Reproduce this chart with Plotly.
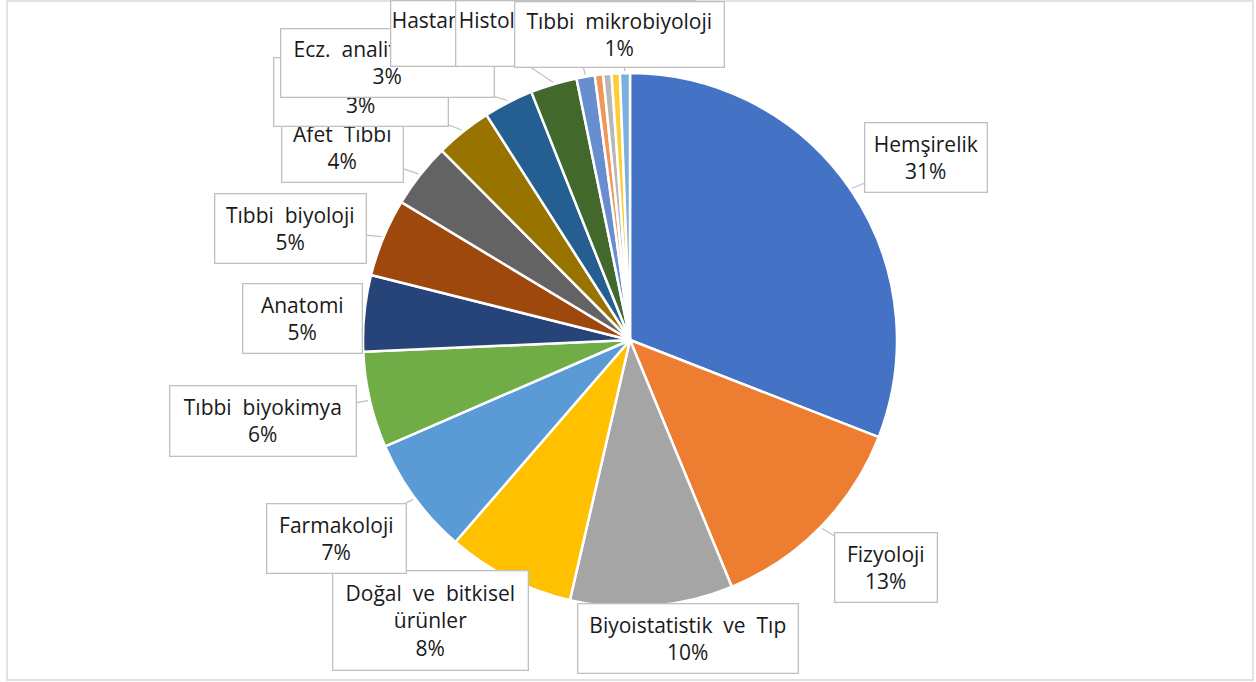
import math
import plotly.graph_objects as go

# ---- data ----
categories = [
    "Hemşirelik", "Fizyoloji", "Biyoistatistik ve Tıp", "Doğal ve bitkisel ürünler",
    "Farmakoloji", "Tıbbi biyokimya", "Anatomi", "Tıbbi biyoloji", "Afet Tıbbı",
    "Biyofizik", "Ecz. analitik kimya", "Hastane yönetimi",
    "Histoloji ve embriyoloji", "Halk sağlığı", "Farmasötik kimya", "Adli tıp",
    "Tıbbi mikrobiyoloji",
]
values = [30.8, 12.8, 9.8, 7.7, 7.1, 5.8, 4.6, 4.7, 3.9, 3.4, 3.0, 2.8, 1.1, 0.5, 0.5, 0.5, 0.6]
label_text = [
    "Hemşirelik", "Fizyoloji", "Biyoistatistik ve Tıp", "Doğal ve bitkisel<br>ürünler",
    "Farmakoloji", "Tıbbi biyokimya", "Anatomi", "Tıbbi biyoloji", "Afet Tıbbı",
    "Biyofizik", "Ecz. analitik kimya", "Hastane yönetimi",
    "Histoloji ve embriyoloji", None, None, None, "Tıbbi mikrobiyoloji",
]
colors = ["#4472C4", "#ED7D31", "#A5A5A5", "#FFC000", "#5B9BD5", "#70AD47",
          "#264478", "#9E480E", "#636363", "#997300", "#255E91", "#43682B",
          "#698ED0", "#F1975A", "#B7B7B7", "#FFCD33", "#7CAFDD"]

# ---- layout of callout boxes (center x, center y, width, height in px) ----
box_layout = {
    0: (925.5, 158, 123, 70),
    1: (885.5, 567, 103, 70),
    2: (687.5, 638, 221, 70),
    3: (430, 620, 196, 100),
    4: (336, 538, 140, 70),
    5: (262.5, 420.5, 187, 71),
    6: (302, 318, 120, 70),
    7: (290, 228, 152, 70),
    8: (342, 148, 122, 70),
    9: (360.5, 92, 175, 69),
    10: (387, 63, 214, 69),
    11: (480, 34, 180, 66),
    12: (575, 34, 240, 66),
    16: (619, 34, 210, 66),
}

W, H = 1256, 682
CX, CY, R = 630, 340, 267
FONT = "Open Sans"

fig = go.Figure(go.Pie(
    labels=categories, values=values, sort=False, direction="clockwise",
    rotation=0, textinfo="none", hoverinfo="label+percent",
    marker=dict(colors=colors, line=dict(color="white", width=2.5)),
    domain=dict(x=[CX / W - 0.3, CX / W + 0.3],
                y=[(H - CY - R) / H, (H - CY + R) / H]),
    showlegend=False,
))

total = sum(values)
cum = 0.0
annotations = []
for i, v in enumerate(values):
    mid = (cum + v / 2) / total * 2 * math.pi
    cum += v
    if i not in box_layout or label_text[i] is None:
        continue
    tx = CX + (R + 2) * math.sin(mid)
    ty = CY - (R + 2) * math.cos(mid)
    bx, by, bw, bh = box_layout[i]
    pct = int(math.floor(v / total * 100 + 0.5))
    shown = label_text[i].replace(" ", "\u00a0 ")
    annotations.append(dict(
        x=tx / W, y=1 - ty / H, xref="paper", yref="paper",
        ax=bx - tx, ay=by - ty, axref="pixel", ayref="pixel",
        text=f"{shown}<br>{pct}%",
        showarrow=True, arrowhead=0, arrowwidth=1.2, arrowcolor="#c0c0c0",
        standoff=0, startstandoff=0,
        width=bw - 2, height=bh - 2, align="center", valign="middle",
        bgcolor="white", bordercolor="#c0c0c0", borderwidth=1.3, borderpad=0,
        font=dict(family=FONT, size=21, color="#1a1a1a"),
    ))

fig.update_layout(
    width=W, height=H, margin=dict(l=0, r=0, t=0, b=0),
    paper_bgcolor="white", plot_bgcolor="white",
    annotations=annotations,
    shapes=[dict(type="rect", xref="paper", yref="paper",
                 x0=7 / W, x1=1253 / W, y0=1 - 680 / H, y1=1 - 1 / H,
                 line=dict(color="#d9d9d9", width=1.5), layer="below")],
)

fig.write_html("out.html", config={"displayModeBar": False},
               post_script="document.body.style.margin='0px';")
